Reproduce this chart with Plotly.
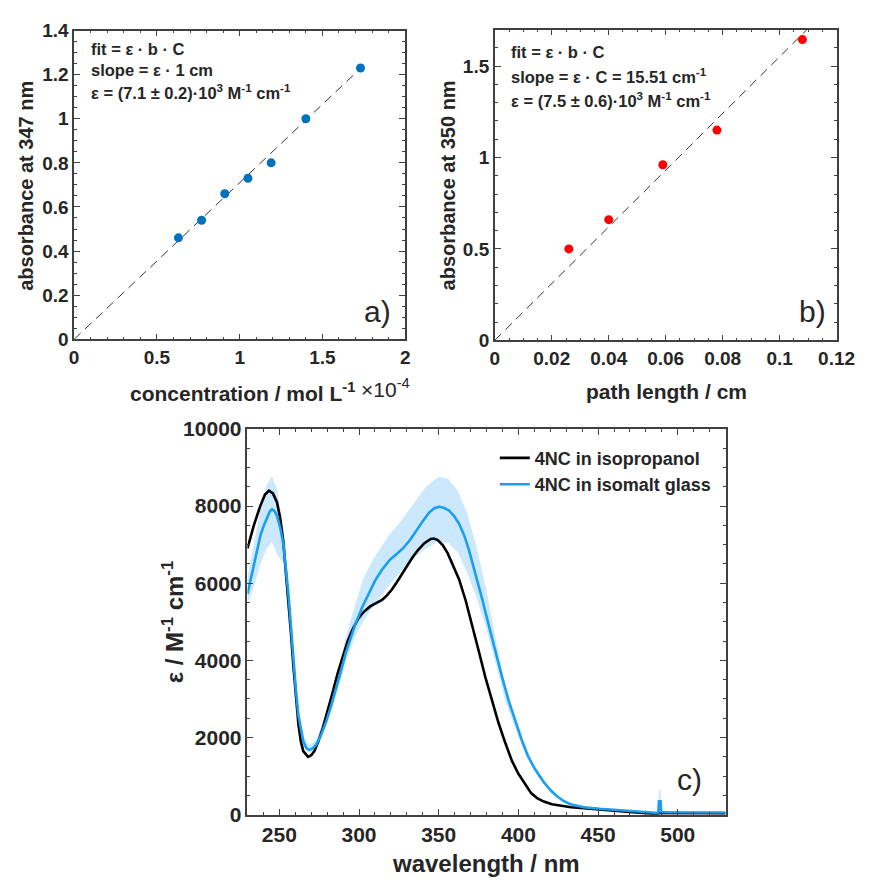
import plotly.graph_objects as go

# ---------------- data ----------------
# panel a: absorbance at 347 nm vs concentration (x 1e-4 mol/L)
conc_a = [0.63, 0.77, 0.91, 1.05, 1.19, 1.40, 1.73]
abs_a = [0.46, 0.54, 0.66, 0.73, 0.80, 1.00, 1.23]
slope_a = 0.71           # absorbance per 1e-4 M  (eps*1cm)
fit_a_range = [0.0, 1.70]

# panel b: absorbance at 350 nm vs path length (cm)
path_b = [0.026, 0.040, 0.059, 0.078, 0.108]
abs_b = [0.50, 0.66, 0.96, 1.15, 1.645]
slope_b = 15.51          # cm^-1
fit_b_range = [0.0, 0.1096]

# panel c: molar absorption spectra
wl_iso = [230, 234, 238, 241, 243.5, 246, 248.5, 250.5, 252.5, 254, 255.7, 257.3, 258.8, 260.3,
          262, 263.5, 265, 268, 270, 272, 274.5, 277.3, 280.5, 283.5, 286.5, 289.7, 292.7, 295.8,
          299.5, 303, 307, 311, 314.5, 317.4, 320.5, 323.6, 326.7, 329.8, 333.4, 337, 341, 345,
          347, 349.4, 352.5, 355.6, 359, 362.8, 367, 371.1, 375.2, 379.3, 383.5, 387.6, 391.7,
          395.9, 400, 404, 408, 412, 416, 421, 426.5, 433, 441, 451, 461, 471, 481, 485, 486.5,
          488, 495, 505, 515, 530]
eps_iso = [6900, 7500, 8000, 8300, 8400, 8330, 8100, 7700, 7080, 6400, 5550, 4700, 3860, 3050,
           2330, 1900, 1650, 1500, 1540, 1650, 1900, 2250, 2700, 3180, 3650, 4110, 4480, 4790,
           5080, 5260, 5400, 5490, 5570, 5680, 5830, 6020, 6230, 6440, 6660, 6860, 7040, 7150,
           7160, 7120, 6990, 6780, 6480, 6100, 5540, 4920, 4230, 3560, 2950, 2370, 1870,
           1400, 1060, 800, 560, 420, 340, 270, 230, 195, 170, 140, 110, 80, 45, 20, 0,
           40, 45, 40, 38, 35]

wl_glass = [230, 232, 234.1, 236.2, 238.2, 240.3, 242.3, 244, 245.4, 247, 248.5, 250.5, 252.6,
            254.2, 255.7, 257.3, 258.8, 260.3, 261.9, 263.5, 265, 267, 268.7, 271, 273.2, 276.3,
            279.4, 282.5, 285.6, 288.7, 291.7, 294.8, 297.9, 302, 306.1, 310, 314.4, 319.4, 323.6,
            327.7, 332, 336, 340, 344.2, 347.5, 350.4, 353.5, 356.6, 359.7, 362.8, 366, 369, 373,
            377.3, 381.4, 385.5, 389.7, 393.8, 398, 402, 406, 410.3, 416, 420.5, 424.5, 428.5,
            432.7, 440.8, 451, 461.2, 473.5, 485.7, 487.8, 488.2, 489.2, 489.6, 495, 510, 530]
eps_glass = [5720, 6100, 6480, 6870, 7250, 7500, 7710, 7860, 7920, 7870, 7750, 7450, 6990,
             6400, 5720, 4870, 4030, 3280, 2590, 2180, 1910, 1720, 1680, 1720, 1820, 2080,
             2420, 2820, 3260, 3730, 4200, 4600, 4960, 5380, 5720, 6060, 6350, 6610, 6760,
             6910, 7120, 7370, 7610, 7840, 7950, 7980, 7950, 7880, 7740, 7540, 7240, 6860, 6260,
             5590, 4910, 4240, 3580, 2970, 2420, 1950, 1520, 1190, 840, 620, 470, 350,
             270, 195, 153, 119, 85, 51, 55, 350, 350, 70, 62, 60, 58]

wl_band = [230, 234, 238, 242, 245.4, 248.5, 252.6, 255.7, 258.8, 262, 265, 268.7, 273, 279.4,
           285.6, 291.7, 297.9, 303, 310, 318, 326, 334, 342, 350, 356, 362, 368, 374, 380, 386,
           392, 398, 404, 410, 416, 424, 433, 450, 470, 487.5, 488.2, 489.2, 490, 510, 530]
band_hi = [6150, 7000, 7900, 8550, 8780, 8450, 7400, 6100, 4300, 2800, 2050, 1800, 1950, 2620,
           3550, 4600, 5500, 6150, 6700, 7200, 7600, 8050, 8500, 8760, 8700, 8400, 7800, 6900,
           5800, 4500, 3300, 2500, 1800, 1280, 900, 510, 290, 170, 100, 60, 640, 640, 75, 70, 68]
band_lo = [5470, 5900, 6480, 6900, 7060, 6750, 6500, 5300, 3750, 2400, 1800, 1600, 1730, 2300,
           3080, 3950, 4650, 5050, 5450, 5900, 6300, 6650, 6900, 7080, 7050, 6800, 6250, 5600,
           4800, 3900, 2900, 2250, 1600, 1120, 780, 440, 250, 140, 80, 40, 100, 100, 50, 50, 48]

# ---------------- layout helpers ----------------
W, H = 876, 890
def px(x):
    return x / W
def py(y):
    return 1 - y / H

TXT = "#262626"
FONT = "Liberation Sans"
BLUE_PT = "#0072BD"
RED_PT = "#FF0000"
BLUE = "#1A9FF0"

fig = go.Figure()

# panel a
fig.add_trace(go.Scatter(x=fit_a_range, y=[slope_a * v for v in fit_a_range], mode="lines",
                         line=dict(color="#333333", width=1, dash="9px,6px"),
                         xaxis="x", yaxis="y", showlegend=False))
fig.add_trace(go.Scatter(x=conc_a, y=abs_a, mode="markers",
                         marker=dict(color=BLUE_PT, size=9),
                         xaxis="x", yaxis="y", showlegend=False))
# panel b
fig.add_trace(go.Scatter(x=fit_b_range, y=[slope_b * v for v in fit_b_range], mode="lines",
                         line=dict(color="#333333", width=1, dash="9px,6px"),
                         xaxis="x2", yaxis="y2", showlegend=False))
fig.add_trace(go.Scatter(x=path_b, y=abs_b, mode="markers",
                         marker=dict(color=RED_PT, size=9),
                         xaxis="x2", yaxis="y2", showlegend=False, cliponaxis=False))
# panel c
fig.add_trace(go.Scatter(x=wl_band, y=band_lo, mode="lines", line=dict(width=0),
                         xaxis="x3", yaxis="y3", showlegend=False, hoverinfo="skip"))
fig.add_trace(go.Scatter(x=wl_band, y=band_hi, mode="lines", line=dict(width=0),
                         fill="tonexty", fillcolor="rgba(140,205,250,0.45)",
                         xaxis="x3", yaxis="y3", showlegend=False, hoverinfo="skip"))
fig.add_trace(go.Scatter(x=wl_iso, y=eps_iso, mode="lines", name="4NC in isopropanol",
                         line=dict(color="black", width=2.6),
                         xaxis="x3", yaxis="y3"))
fig.add_trace(go.Scatter(x=wl_glass, y=eps_glass, mode="lines", name="4NC in isomalt glass",
                         line=dict(color=BLUE, width=2.6),
                         xaxis="x3", yaxis="y3"))

def axis(domain, rng, dtick, minor, size, anchor, fmt=None, tick0=None):
    d = dict(domain=domain, range=rng, dtick=dtick, ticks="inside", ticklen=6, tickwidth=1,
             tickcolor="#404040", showline=True, linecolor="#404040", linewidth=1.5,
             mirror="ticks", showgrid=False, zeroline=False, anchor=anchor,
             tickfont=dict(family=FONT, size=size, color=TXT, weight="bold"),
             minor=dict(dtick=minor, ticks="inside", ticklen=3, tickcolor="#404040",
                        showgrid=False))
    if fmt:
        d["tickformat"] = fmt
    if tick0 is not None:
        d["tick0"] = tick0
    return d

fig.update_layout(
    width=W, height=H, margin=dict(l=0, r=0, t=0, b=0),
    plot_bgcolor="white", paper_bgcolor="white",
    xaxis=axis([px(71), px(411)], [0, 2], 0.5, 0.1, 19, "y"),
    yaxis=axis([py(336), py(19)], [0, 1.4], 0.2, 0.05, 19, "x"),
    xaxis2=axis([px(503), px(854)], [0, 0.12], 0.02, 0.005, 19, "y2"),
    yaxis2=axis([py(337), py(18)], [0, 1.7], 0.5, 0.1, 19, "x2"),
    xaxis3=axis([px(249), px(740)], [230, 530], 50, 10, 21, "y3", tick0=0),
    yaxis3=axis([py(824), py(428)], [0, 10000], 2000, 500, 21, "x3", fmt="d"),
    legend=dict(x=px(503), y=py(439), xanchor="left", yanchor="top",
                traceorder="normal", tracegroupgap=0,
                bgcolor="rgba(0,0,0,0)", borderwidth=0, itemwidth=30,
                font=dict(family=FONT, size=18, color=TXT, weight="bold")),
    font=dict(family=FONT, color=TXT),
)

ann = []
def add(text, x, y, size, xanchor="center", yanchor="middle", angle=0, bold=True):
    ann.append(dict(text=text, x=px(x), y=py(y), xref="paper", yref="paper",
                    xanchor=xanchor, yanchor=yanchor, showarrow=False, textangle=angle,
                    font=dict(family=FONT, size=size, color=TXT,
                              weight="bold" if bold else "normal")))

# panel a texts
add("fit = ε · b · C", 86, 38, 16.5, xanchor="left")
add("slope = ε · 1 cm", 86, 60, 16.5, xanchor="left")
add("ε = (7.1 ± 0.2)·10<sup>3</sup> M<sup>-1</sup> cm<sup>-1</sup>", 86, 82, 16.5, xanchor="left")
add("a)", 383, 307, 30, bold=False)
add("concentration / mol L<sup>-1</sup>", 244, 390, 21)
add("×10<sup>-4</sup>", 364, 386, 21, xanchor="left", bold=False)
add("absorbance at 347 nm", 22, 178, 20, angle=-90)

# panel b texts
add("fit = ε · b · C", 518, 41, 16.5, xanchor="left")
add("slope = ε · C = 15.51 cm<sup>-1</sup>", 518, 66, 16.5, xanchor="left")
add("ε = (7.5 ± 0.6)·10<sup>3</sup> M<sup>-1</sup> cm<sup>-1</sup>", 518, 90, 16.5, xanchor="left")
add("b)", 829, 307, 30, bold=False)
add("path length / cm", 679, 390, 21)
add("absorbance at 350 nm", 455, 178, 20, angle=-90)

# panel c texts
add("c)", 703, 788, 30, bold=False)
add("wavelength / nm", 494, 874, 24)
add("ε / M<sup>-1</sup> cm<sup>-1</sup>", 172, 626, 24, angle=-90)

fig.update_layout(annotations=ann)
fig.write_html("out.html")
